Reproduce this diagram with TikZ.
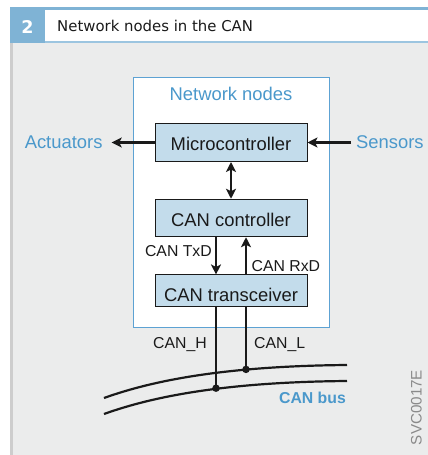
\documentclass[tikz,border=0pt]{standalone}
\usepackage{fontspec}
\setmainfont{Liberation Sans}
\newfontfamily\hdrfont{DejaVu Sans}
\usetikzlibrary{arrows.meta}
\definecolor{bgGrey}{HTML}{EBECEC}
\definecolor{edgeGrey}{HTML}{CDCDCD}
\definecolor{hdrBlue}{HTML}{7FB3D5}
\definecolor{hdrLine}{HTML}{9CC5E0}
\definecolor{txtBlue}{HTML}{4A98CB}
\definecolor{boxBlue}{HTML}{C3DCEB}
\definecolor{frameBlue}{HTML}{5DA2D3}
\definecolor{ink}{HTML}{1A1A1A}
\definecolor{codeGrey}{HTML}{8A8A8A}
\tikzset{
  blockbox/.style={draw=ink, line width=1pt, fill=boxBlue, minimum width=152pt, inner sep=0pt},
  blocktxt/.style={font=\fontsize{18.4}{20}\selectfont, text=ink, inner sep=0pt, anchor=base},
  bluetxt/.style={font=\fontsize{18.4}{20}\selectfont, text=txtBlue, inner sep=0pt},
  sigtxt/.style={font=\fontsize{15.8}{18}\selectfont, text=ink, inner sep=0pt},
  wire/.style={draw=ink, line width=2.2pt},
  arr/.style={wire, -{Stealth[length=10pt,width=10pt,inset=2.5pt]}},
  darr/.style={wire, {Stealth[length=10pt,width=10pt,inset=2.5pt]}-{Stealth[length=10pt,width=10pt,inset=2.5pt]}},
  junction/.style={circle, fill=ink, inner sep=0pt, minimum size=7.5pt},
}
\begin{document}
\begin{tikzpicture}[x=1pt,y=-1pt]
\useasboundingbox (0,0) rectangle (428,455);
\fill[white] (0,0) rectangle (428,455);
% panel background
\fill[bgGrey] (10,43) rectangle (428,455);
\fill[edgeGrey] (10,43) rectangle (12.5,455);
% header
\fill[hdrBlue] (10,7) rectangle (428,9.5);
\fill[hdrLine] (10,40.5) rectangle (428,43);
\fill[hdrBlue] (10,7) rectangle (45,43);
\node[font=\hdrfont\bfseries\fontsize{17.5}{19}\selectfont, text=white, inner sep=0pt, anchor=base] (num) at (27.5,33.3) {2};
\node[font=\hdrfont\fontsize{14.9}{17}\selectfont, text=ink, inner sep=0pt, anchor=base west] (title) at (57,31.7) {Network nodes in the CAN};
% network node frame
\node[draw=frameBlue, line width=1pt, fill=white, minimum width=196pt, minimum height=250pt, inner sep=0pt] (frame) at (231,202) {};
\node[bluetxt, anchor=base] (nntxt) at (231,100.7) {Network nodes};
% blocks
\node[blockbox, minimum height=38pt] (mc) at (231,142.5) {};
\node[blocktxt] (mctxt) at (231,150) {Microcontroller};
\node[blockbox, minimum height=37.5pt] (cc) at (231,218) {};
\node[blocktxt] (cctxt) at (231,226) {CAN controller};
\node[blockbox, minimum height=31.7pt] (tr) at (231,290.8) {};
\node[blocktxt] (trtxt) at (231,301.7) {CAN transceiver};
% actuators / sensors
\node[bluetxt, anchor=east, inner xsep=9pt] (act) at (111.7,142.5) {Actuators};
\node[bluetxt, anchor=west, inner xsep=5pt] (sen) at (351,142.5) {Sensors};
\draw[arr] (mc.west) -- (act.east);
\draw[arr] (sen.west) -- (mc.east);
\draw[darr] (mc.south) -- (cc.north);
% TxD / RxD
\coordinate (txx) at (216,0);
\coordinate (rxx) at (246,0);
\draw[arr] (cc.south -| txx) -- (tr.north -| txx);
\draw[arr] (tr.north -| rxx) -- (cc.south -| rxx);
\node[sigtxt, anchor=base east] (txd) at (212,256) {CAN TxD};
\node[sigtxt, anchor=base west] (rxd) at (251.5,271) {CAN RxD};
% bus
\coordinate (uA) at (104,398);
\coordinate (uB) at (347,365);
\coordinate (lA) at (104,414);
\coordinate (lB) at (347,381);
\draw[wire] (uA) .. controls (154,380) and (227,366) .. (uB);
\draw[wire] (lA) .. controls (154,396) and (227,382) .. (lB);
\node[junction] (jh) at (216,388.2) {};
\node[junction] (jl) at (246,369.4) {};
\draw[wire] (tr.south -| txx) -- (jh.center);
\draw[wire] (tr.south -| rxx) -- (jl.center);
\node[sigtxt, anchor=base east] (canh) at (207,348.3) {CAN\_H};
\node[sigtxt, anchor=base west] (canl) at (254,348.3) {CAN\_L};
\node[font=\bfseries\fontsize{15.8}{18}\selectfont, text=txtBlue, inner sep=0pt, anchor=base east] (busl) at (346,403.3) {CAN bus};
\node[font=\fontsize{15.2}{17}\selectfont, text=codeGrey, inner sep=0pt, rotate=90, anchor=base] (code) at (421.5,407.5) {SVC0017E};
\end{tikzpicture}
\end{document}
